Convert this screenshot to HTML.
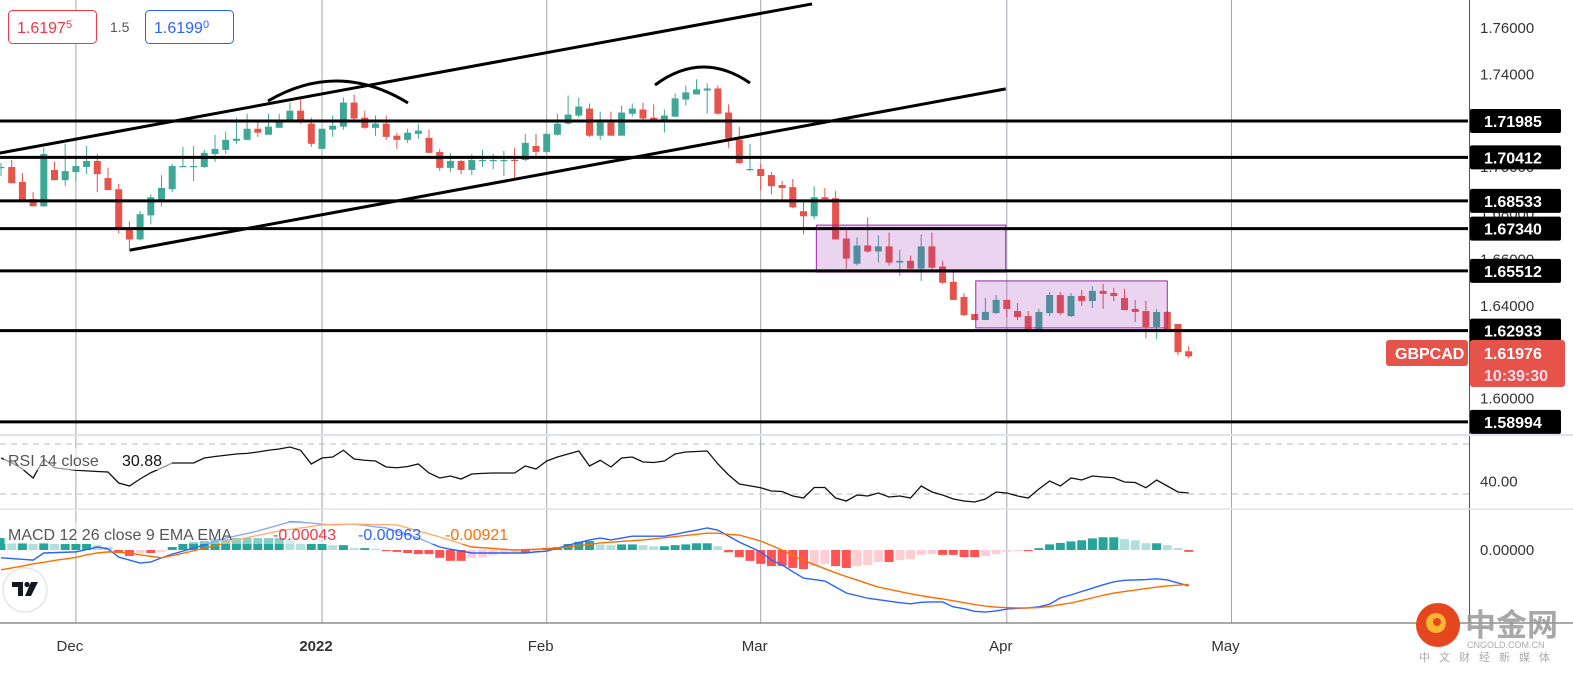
<!DOCTYPE html>
<html><head><meta charset="utf-8"><style>
html,body{margin:0;padding:0;background:#fff;}
svg{display:block;font-family:"Liberation Sans","Noto Sans CJK SC",sans-serif;}
</style></head><body>
<svg id="chart" width="1573" height="674" viewBox="0 0 1573 674" xmlns="http://www.w3.org/2000/svg"></svg>
<script>
// ===== DATA =====
const openP=[1.6996,1.7000,1.6935,1.6861,1.6830,1.6987,1.6943,1.6978,1.7000,1.7026,
1.6952,1.6904,1.6730,1.6687,1.6791,1.6852,1.6904,1.7003,1.7003,1.7000,
1.7056,1.7074,1.7113,1.7117,1.7165,1.7139,1.7169,1.7200,1.7243,1.7187,
1.7078,1.7161,1.7174,1.7278,1.7213,1.7169,1.7187,1.7135,1.7117,1.7143,
1.7126,1.7065,1.6996,1.7026,1.6987,1.7026,1.7029,1.7029,1.7031,1.7030,
1.7091,1.7065,1.7139,1.7187,1.7222,1.7252,1.7135,1.7191,1.7135,1.7230,
1.7248,1.7213,1.7200,1.7217,1.7291,1.7313,1.7330,1.7339,1.7235,1.7117,
1.6987,1.6991,1.6965,1.6922,1.6913,1.6809,1.6787,1.6869,1.6865,1.6691,
1.6582,1.6661,1.6635,1.6657,1.6587,1.6595,1.6561,1.6657,1.6570,1.6504,
1.6439,1.6365,1.6339,1.6369,1.6426,1.6378,1.6356,1.6300,1.6369,1.6447,
1.6356,1.6443,1.6421,1.6465,1.6456,1.6434,1.6387,1.6378,1.6309,1.6374,
1.6322,1.6204];
const closeP=[1.7000,1.6930,1.6856,1.6830,1.7056,1.6943,1.6982,1.7004,1.7026,1.6969,
1.6900,1.6730,1.6687,1.6796,1.6869,1.6909,1.7004,1.7004,1.7004,1.7061,
1.7078,1.7117,1.7122,1.7165,1.7148,1.7174,1.7204,1.7243,1.7200,1.7100,
1.7165,1.7178,1.7278,1.7209,1.7169,1.7187,1.7130,1.7117,1.7148,1.7157,
1.7061,1.6996,1.7026,1.6987,1.7030,1.7030,1.7030,1.7030,1.7030,1.7104,
1.7065,1.7143,1.7187,1.7226,1.7261,1.7135,1.7191,1.7135,1.7235,1.7252,
1.7209,1.7200,1.7222,1.7296,1.7322,1.7335,1.7339,1.7230,1.7122,1.7017,
1.6991,1.6961,1.6917,1.6909,1.6826,1.6787,1.6869,1.6861,1.6687,1.6604,
1.6661,1.6635,1.6657,1.6587,1.6595,1.6561,1.6657,1.6565,1.6500,1.6426,
1.6360,1.6339,1.6374,1.6426,1.6387,1.6352,1.6300,1.6374,1.6447,1.6369,
1.6443,1.6421,1.6465,1.6452,1.6443,1.6382,1.6374,1.6309,1.6374,1.6295,
1.6200,1.6182];
const highP=[1.7017,1.7030,1.6974,1.6891,1.7083,1.7022,1.7100,1.7039,1.7091,1.7056,
1.6996,1.6926,1.6765,1.6809,1.6882,1.6965,1.7013,1.7087,1.7091,1.7074,
1.7139,1.7152,1.7213,1.7230,1.7204,1.7230,1.7230,1.7278,1.7291,1.7213,
1.7165,1.7222,1.7300,1.7313,1.7243,1.7222,1.7222,1.7148,1.7165,1.7187,
1.7161,1.7078,1.7061,1.7030,1.7056,1.7074,1.7056,1.7069,1.7083,1.7143,
1.7143,1.7143,1.7230,1.7309,1.7300,1.7274,1.7239,1.7239,1.7265,1.7274,
1.7278,1.7270,1.7248,1.7317,1.7352,1.7378,1.7361,1.7352,1.7270,1.7174,
1.7100,1.7013,1.6978,1.6939,1.6948,1.6861,1.6917,1.6909,1.6896,1.6739,
1.6696,1.6783,1.6704,1.6717,1.6643,1.6617,1.6709,1.6717,1.6595,1.6556,
1.6456,1.6365,1.6434,1.6447,1.6426,1.6413,1.6378,1.6387,1.6460,1.6460,
1.6456,1.6469,1.6486,1.6495,1.6478,1.6474,1.6426,1.6422,1.6387,1.6378,
1.6322,1.6226];
const lowP=[1.6961,1.6930,1.6856,1.6830,1.6828,1.6943,1.6917,1.6939,1.6969,1.6891,
1.6900,1.6713,1.6635,1.6683,1.6752,1.6830,1.6891,1.7000,1.6939,1.6996,
1.7022,1.7056,1.7100,1.7117,1.7130,1.7139,1.7169,1.7200,1.7187,1.7087,
1.7078,1.7130,1.7161,1.7200,1.7165,1.7135,1.7117,1.7078,1.7104,1.7122,
1.7061,1.6983,1.6978,1.6969,1.6965,1.7000,1.6991,1.6961,1.6952,1.7026,
1.7048,1.7061,1.7135,1.7183,1.7213,1.7130,1.7117,1.7135,1.7135,1.7217,
1.7204,1.7200,1.7148,1.7217,1.7265,1.7313,1.7230,1.7226,1.7083,1.7013,
1.6983,1.6900,1.6882,1.6852,1.6822,1.6709,1.6774,1.6861,1.6687,1.6561,
1.6574,1.6630,1.6587,1.6574,1.6530,1.6548,1.6508,1.6552,1.6495,1.6426,
1.6356,1.6339,1.6339,1.6365,1.6352,1.6339,1.6287,1.6300,1.6356,1.6360,
1.6352,1.6400,1.6391,1.6387,1.6421,1.6382,1.6330,1.6260,1.6256,1.6290,
1.6187,1.6174];
const rsiVals=[58.8,55,50,42.8,58,51,50,49,48.5,48,47.6,38.8,36.4,42,47,50.8,54.8,54.8,54.8,58.8,
60,61,62,62.5,63.6,65,66,67.6,65,54,58.8,59.6,65,58,57,56.4,51.6,51,52,54,
46.8,42.8,44.4,42,46,46.5,46.8,46.8,46.8,52.4,50,56.4,59.6,62,64.4,52.4,57,51.6,58.8,59.6,
55.6,55.2,56.4,62,63.6,64,64.4,54,45.2,38,36.5,35,32.4,32,28.4,26.8,35.2,35.2,26.8,24.4,
29.2,28.4,30.8,27.6,28.4,26.8,36.4,31.6,29.2,26,24.4,23.6,26,31.6,30.8,28.4,26.8,34,40.4,36.4,
42.8,41.2,44.4,43.6,43,39.6,39.2,35,41.2,36.4,31.6,30.8];
const macdVals=[-0.0021,-0.0023,-0.0025,-0.0027,-0.0008,-0.0007,-0.0006,-0.0005,0.0001,0.0008,
0.0003,-0.0019,-0.0027,-0.0035,-0.0032,-0.0021,-0.0011,-0.0003,0.0005,0.0014,
0.0023,0.0032,0.0038,0.0044,0.0051,0.0059,0.0067,0.0075,0.0074,0.0072,
0.0069,0.0067,0.0068,0.0069,0.0066,0.0062,0.0059,0.0050,0.0041,0.0032,
0.0020,0.0008,0.0002,-0.0003,-0.0008,-0.0008,-0.0008,-0.0008,-0.0008,-0.0008,
-0.0005,-0.0003,0.0005,0.0013,0.0020,0.0027,0.0032,0.0027,0.0032,0.0037,
0.0037,0.0037,0.0037,0.0042,0.0048,0.0053,0.0059,0.0053,0.0037,0.0021,
0.0008,-0.0005,-0.0027,-0.0040,-0.0058,-0.0075,-0.0079,-0.0083,-0.0099,-0.0115,
-0.0122,-0.0129,-0.0133,-0.0137,-0.0141,-0.0144,-0.0140,-0.0139,-0.0139,-0.0152,
-0.0157,-0.0164,-0.0166,-0.0163,-0.0158,-0.0156,-0.0155,-0.0152,-0.0145,-0.0128,
-0.0120,-0.0111,-0.0102,-0.0093,-0.0085,-0.0081,-0.0080,-0.0079,-0.0077,-0.0080,
-0.0088,-0.0096];
const signalVals=[-0.0053,-0.0048,-0.0043,-0.0037,-0.0033,-0.0028,-0.0024,-0.0020,-0.0013,-0.0008,
-0.0005,-0.0006,-0.0008,-0.0013,-0.0017,-0.0021,-0.0015,-0.0009,-0.0002,0.0005,
0.0012,0.0020,0.0027,0.0033,0.0039,0.0045,0.0051,0.0055,0.0059,0.0063,
0.0067,0.0068,0.0069,0.0069,0.0069,0.0068,0.0068,0.0067,0.0059,0.0051,
0.0043,0.0035,0.0026,0.0017,0.0008,0.0006,0.0004,0.0002,0.0000,0.0001,
0.0002,0.0004,0.0005,0.0008,0.0012,0.0015,0.0019,0.0021,0.0023,0.0025,
0.0027,0.0030,0.0033,0.0036,0.0039,0.0042,0.0045,0.0045,0.0042,0.0040,
0.0032,0.0024,0.0012,0.0000,-0.0015,-0.0027,-0.0039,-0.0050,-0.0061,-0.0071,
-0.0080,-0.0090,-0.0099,-0.0105,-0.0111,-0.0117,-0.0122,-0.0127,-0.0131,-0.0136,
-0.0141,-0.0146,-0.0150,-0.0153,-0.0154,-0.0155,-0.0155,-0.0154,-0.0151,-0.0146,
-0.0142,-0.0135,-0.0128,-0.0121,-0.0115,-0.0111,-0.0107,-0.0103,-0.0099,-0.0096,
-0.0094,-0.0092];
const histVals=[0.0032,0.0019,0.0019,0.0016,0.0019,0.0016,0.0016,0.0016,0.0016,0.0013,
0.0008,-0.0005,-0.0016,-0.0008,-0.0008,-0.0005,0.0008,0.0016,0.0021,0.0024,
0.0029,0.0029,0.0032,0.0032,0.0032,0.0032,0.0032,0.0029,0.0016,0.0016,
0.0016,0.0013,0.0013,0.0005,0.0005,0.0003,-0.0003,-0.0005,-0.0008,-0.0011,
-0.0011,-0.0021,-0.0029,-0.0029,-0.0021,-0.0019,-0.0013,-0.0011,-0.0008,-0.0008,
-0.0003,0.0003,0.0008,0.0016,0.0022,0.0024,0.0015,0.0013,0.0015,0.0015,
0.0013,0.0010,0.0010,0.0013,0.0015,0.0018,0.0018,0.0010,-0.0006,-0.0019,
-0.0029,-0.0037,-0.0043,-0.0043,-0.0048,-0.0051,-0.0043,-0.0037,-0.0043,-0.0048,
-0.0043,-0.0040,-0.0032,-0.0032,-0.0027,-0.0024,-0.0013,-0.0011,-0.0013,-0.0013,
-0.0019,-0.0019,-0.0016,-0.0011,-0.0005,-0.0003,-0.0003,0.0005,0.0015,0.0019,
0.0023,0.0026,0.0031,0.0034,0.0034,0.0029,0.0026,0.0018,0.0018,0.0013,
0.0005,-0.0005];
const priceTicks=[1.76,1.74,1.72,1.70,1.68,1.66,1.64,1.62,1.60];
const levelPrices=[1.71985,1.70412,1.68533,1.67340,1.65512,1.62933,1.58994];
const dateLabels=["Dec","2022","Feb","Mar","Apr","May"];
const dateIdx=[7,30,51,71,94,115];
const lastPrice=1.61976;
const rsiLevels=[70,30];
const rsiTick=[40];

// ===== AXES =====
const X=i=>1+i*10.7;
const Y=p=>28+(1.76-p)*2316;
const RY=v=>444+(70-v)*1.25;
const MY=v=>550-v*3740;
const NS="http://www.w3.org/2000/svg";
const svg=document.getElementById('chart');
function mk(tag,attrs,parent){const e=document.createElementNS(NS,tag);for(const k in attrs)e.setAttribute(k,attrs[k]);(parent||svg).appendChild(e);return e;}
const TEAL="#3fa796",RED="#e5534b";

dateIdx.forEach((d,k)=>{
  const l=mk('line',{x1:X(d),x2:X(d),y1:0,y2:623,stroke:'#a3a6af','stroke-width':1});
  
  
});
priceTicks.forEach(p=>{
  const t=mk('text',{x:1480,y:Y(p)+5,'font-size':15,fill:'#333'});
  t.textContent=p.toFixed(5);
  
  
});
const cg=mk('g',{});


for(let i=0;i<openP.length;i++){
  const up=closeP[i]>=openP[i];const col=up?TEAL:RED;const x=X(i);
  const w=mk('line',{x1:x,x2:x,y1:Y(highP[i]),y2:Y(lowP[i]),stroke:col,'stroke-width':1},cg);
  
  
  const top=Y(Math.max(openP[i],closeP[i])),bot=Y(Math.min(openP[i],closeP[i]));
  const b=mk('rect',{x:x-3.5,y:top,width:7,height:Math.max(1.2,bot-top),fill:col},cg);
  
  
}
const boxes=[[76.2,93.9,1.6749,1.6546],[91.1,109,1.6508,1.6305]];
boxes.forEach((bx,k)=>{
  const r=mk('rect',{x:X(bx[0]),y:Y(bx[2]),width:X(bx[1])-X(bx[0]),height:Y(bx[3])-Y(bx[2]),fill:'rgba(156,39,176,0.2)',stroke:'#9c27b0','stroke-width':1});
  
  
});
levelPrices.forEach(p=>{
  const l=mk('line',{x1:0,x2:1468,y1:Y(p),y2:Y(p),stroke:'#000','stroke-width':3});
  
  
});
const trends=[[-0.1,1.7060,75.8,1.7704],[12.05,1.6641,93.9,1.7337]];
trends.forEach((t,k)=>{
  const l=mk('line',{x1:X(t[0]),y1:Y(t[1]),x2:X(t[2]),y2:Y(t[3]),stroke:'#000','stroke-width':3});
  
  
});
const arcs=[[268,101,338,60,408,103],[655,85,702,50,750,83]];
arcs.forEach((a,k)=>{
  const p=mk('path',{d:`M${a[0]},${a[1]} Q${a[2]},${a[3]} ${a[4]},${a[5]}`,fill:'none',stroke:'#000','stroke-width':3});
  
  
});

const ax=mk('rect',{x:1469,y:0,width:104,height:674,fill:'none'});


mk('line',{x1:1469.5,x2:1469.5,y1:0,y2:623,stroke:'#555','stroke-width':1});
levelPrices.forEach(p=>{
  const g=mk('g',{});
  
  
  mk('rect',{x:1470,y:Y(p)-12,width:91,height:24,rx:2,fill:'#000'},g);
  const t=mk('text',{x:1484,y:Y(p)+6,'font-size':16,'font-weight':'bold',fill:'#fff'},g);
  t.textContent=p.toFixed(5);
});
const lp=mk('g',{});


mk('rect',{x:1386,y:340,width:82,height:26,rx:3,fill:'#e5534b'},lp);
let t=mk('text',{x:1395,y:359,'font-size':16,'font-weight':'bold',fill:'#fff'},lp);t.textContent='GBPCAD';
mk('rect',{x:1470,y:340,width:95,height:47,rx:3,fill:'#e5534b'},lp);
t=mk('text',{x:1484,y:359,'font-size':16,'font-weight':'bold',fill:'#fff'},lp);t.textContent=lastPrice.toFixed(5);
t=mk('text',{x:1484,y:381,'font-size':16,'font-weight':'bold',fill:'#fde'},lp);t.textContent='10:39:30';

mk('line',{x1:0,x2:1573,y1:435,y2:435,stroke:'#e0e3eb','stroke-width':2});
mk('line',{x1:0,x2:1573,y1:509,y2:509,stroke:'#e0e3eb','stroke-width':1.5});
mk('line',{x1:0,x2:1573,y1:623,y2:623,stroke:'#555','stroke-width':1});

rsiLevels.forEach(v=>{
  const l=mk('line',{x1:0,x2:1469,y1:RY(v),y2:RY(v),stroke:'#bbb','stroke-width':1,'stroke-dasharray':'6,5'});
  
  
});
const rp=mk('polyline',{points:rsiVals.map((v,i)=>X(i)+','+RY(v)).join(' '),fill:'none',stroke:'#111','stroke-width':1.3});


rsiTick.forEach(v=>{
  const tt=mk('text',{x:1480,y:RY(v)+5,'font-size':15,fill:'#333'});tt.textContent=v.toFixed(2);
  
  
});

for(let i=0;i<histVals.length;i++){
  const v=histVals[i],pv=i?histVals[i-1]:v;
  let col;
  if(v>=0) col=(v>=pv)?'#26a69a':'#b2dfdb'; else col=(v<=pv)?'#ff5252':'#ffcdd2';
  const y0=MY(0),y1=MY(v);
  const r=mk('rect',{x:X(i)-4.5,y:Math.min(y0,y1),width:9,height:Math.max(1,Math.abs(y1-y0)),fill:col});
  
  
}
const ml=mk('polyline',{points:macdVals.map((v,i)=>X(i)+','+MY(v)).join(' '),fill:'none',stroke:'#2962ff','stroke-width':1.4});


const sl=mk('polyline',{points:signalVals.map((v,i)=>X(i)+','+MY(v)).join(' '),fill:'none',stroke:'#ff6d00','stroke-width':1.4});


t=mk('text',{x:1480,y:MY(0)+5,'font-size':15,fill:'#333'});t.textContent='0.00000';



dateLabels.forEach((d,k)=>{
  const tt=mk('text',{x:X(dateIdx[k])-6,y:651,'font-size':15,fill:'#333','text-anchor':'middle','font-weight':d==='2022'?'bold':'normal'});
  tt.textContent=d;
  
  
});
</script>

<svg style="position:absolute;left:0;top:0" width="1573" height="674" xmlns="http://www.w3.org/2000/svg">
  <g>
    <rect x="8.5" y="10.5" width="88" height="33" rx="4" fill="#fff" stroke="#f23645"/>
    <text x="17" y="33" font-size="16" fill="#f23645">1.6197<tspan font-size="11" dy="-5">5</tspan></text>
    <text x="110" y="32" font-size="14" fill="#555">1.5</text>
    <rect x="145.5" y="10.5" width="88" height="33" rx="4" fill="#fff" stroke="#2962ff"/>
    <text x="154" y="33" font-size="16" fill="#2962ff">1.6199<tspan font-size="11" dy="-5">0</tspan></text>
  </g>
  <g>
    <rect x="4" y="448" width="168" height="22" fill="rgba(255,255,255,0.55)"/>
    <text x="8" y="466" font-size="16" fill="#555">RSI 14 close</text>
    <text x="122" y="466" font-size="16" fill="#111">30.88</text>
  </g>
  <g>
    <rect x="4" y="522" width="520" height="22" fill="rgba(255,255,255,0.45)"/>
    <text x="8" y="540" font-size="16" fill="#555">MACD 12 26 close 9 EMA EMA</text>
    <text x="273" y="540" font-size="16" fill="#f23645">-0.00043</text>
    <text x="358" y="540" font-size="16" fill="#2962ff">-0.00963</text>
    <text x="445" y="540" font-size="16" fill="#ff6d00">-0.00921</text>
  </g>
  <g>
    <circle cx="25" cy="590" r="22" fill="#fff" stroke="#e6e6e6" stroke-width="1.5"/>
    <path d="M12 582 h11 v14 h-5 v-9 h-6 z" fill="#131722"/>
    <circle cx="27" cy="584.5" r="2.6" fill="#131722"/>
    <path d="M31 582 h7 l-7 14 h-6 z" fill="#131722"/>
  </g>
  <g>
    <circle cx="1438" cy="625" r="22" fill="#e4461e"/>
    <circle cx="1436" cy="623" r="10" fill="#f7b733"/>
    <circle cx="1437" cy="622" r="4" fill="#e4461e"/>
    <text x="1465" y="636" font-size="31" font-weight="bold" fill="#9a9a9a" opacity="0.85" font-family="Liberation Sans, Noto Sans CJK SC, sans-serif">中金网</text>
    <text x="1467" y="648" font-size="9" fill="#aaa">CNGOLD.COM.CN</text>
    <text x="1419" y="661" font-size="11" fill="#aaa" letter-spacing="9" font-family="Liberation Sans, Noto Sans CJK SC, sans-serif">中文财经新媒体</text>
  </g>
</svg>
</body></html>
